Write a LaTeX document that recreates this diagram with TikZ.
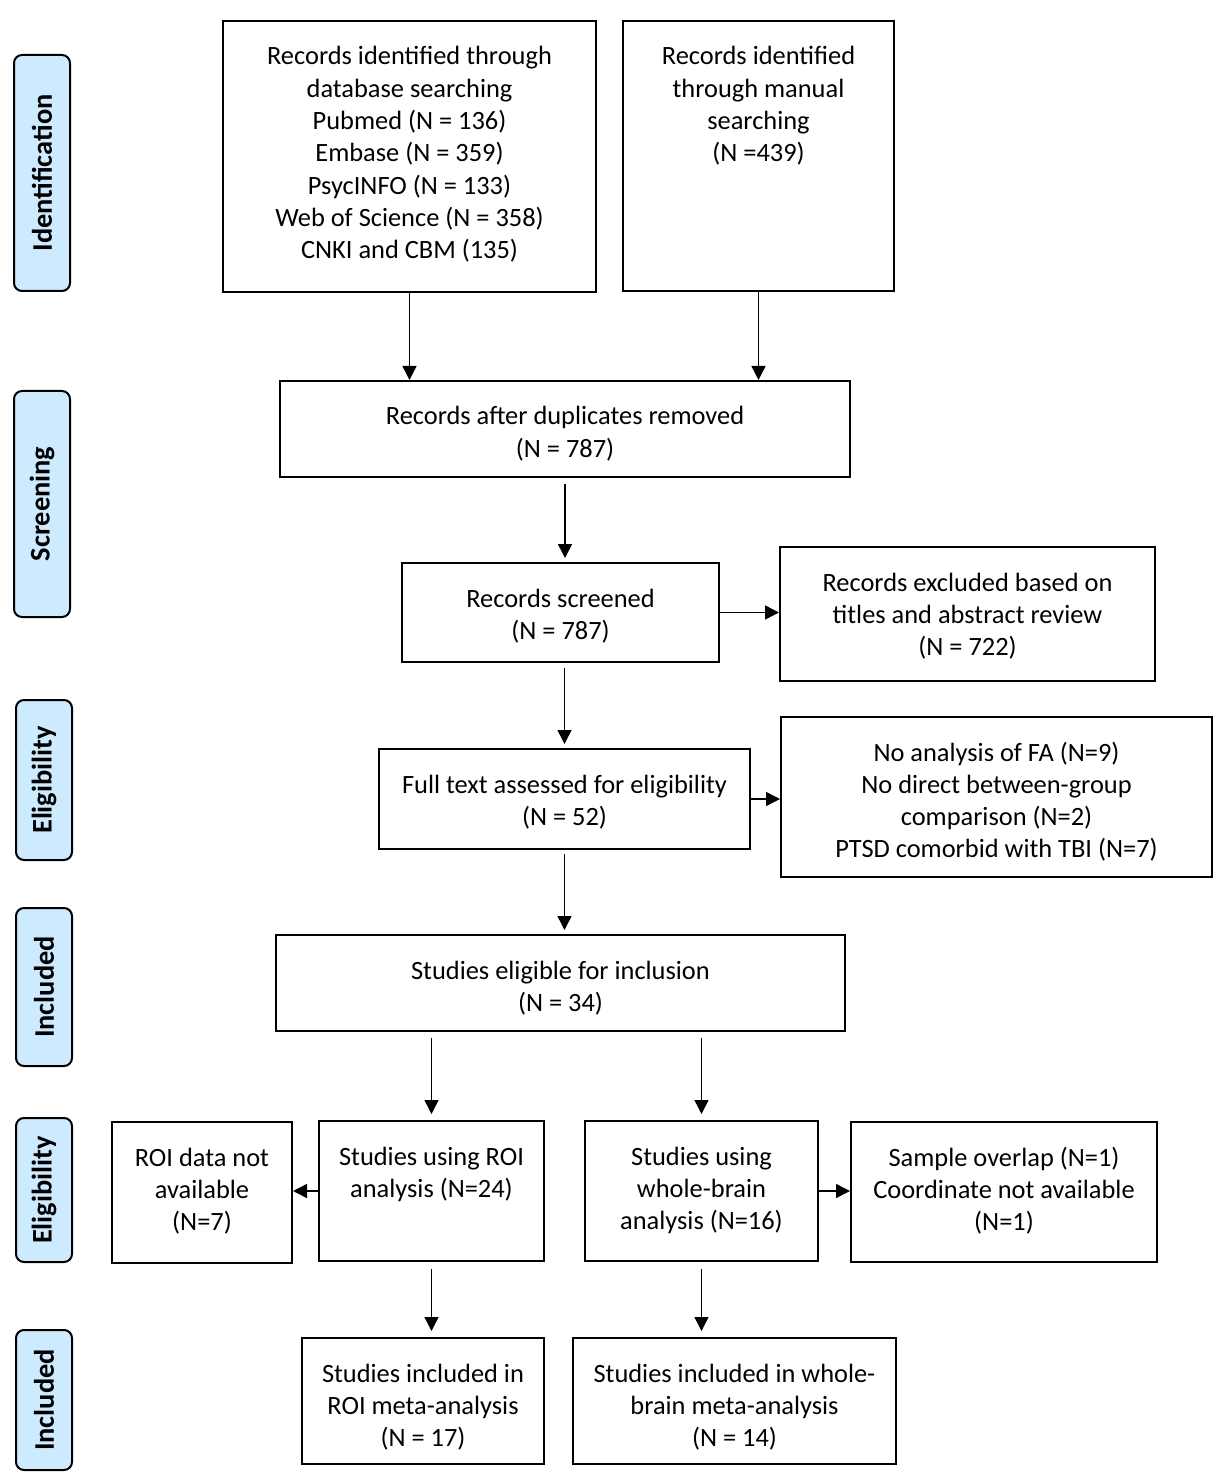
\documentclass[tikz,border=0pt]{standalone}
\usepackage{fontspec}
\setmainfont{Carlito}
\usetikzlibrary{arrows.meta}
\definecolor{stageblue}{RGB}{206,234,255}

\tikzset{
  box/.style={draw, line width=1pt, align=flush center, anchor=north,
    inner xsep=4pt, inner ysep=13pt, text height=9pt,
    font=\fontsize{13.2pt}{16.15pt}\selectfont},
  stage/.style={draw, line width=1pt, fill=stageblue, rounded corners=4pt, rotate=90,
    minimum height=28pt, inner sep=0pt, font=\fontsize{14.2pt}{17pt}\selectfont\bfseries},
  arr/.style={-{Triangle[length=7pt,width=7pt]}, line width=0.75pt},
}

\begin{document}
\begin{tikzpicture}[x=0.5pt, y=-0.5pt]
\useasboundingbox (0,0) rectangle (1224,1475);
% stages
\node[stage, minimum width=118pt] (st1) at (42,173) {Identification};
\node[stage, minimum width=113pt] (st2) at (42,504) {Screening};
\node[stage, minimum width=80pt] (st3) at (44,780) {Eligibility};
\node[stage, minimum width=79pt] (st4) at (44,987) {Included};
\node[stage, minimum width=72pt] (st5) at (44,1190) {Eligibility};
\node[stage, minimum width=70pt] (st6) at (44,1400) {Included};
% boxes
\node[box, text width=178.5pt, text depth=100.5pt] (db) at (409.5,20)
  {Records identified through\\database searching\\Pubmed (N = 136)\\Embase (N = 359)\\PsycINFO (N = 133)\\Web of Science (N = 358)\\CNKI and CBM (135)};
\node[box, text width=127.5pt, text depth=100pt] (man) at (758.5,20)
  {Records identified\\through manual\\searching\\(N =439)};
\node[box, text width=277pt, text depth=13pt] (dup) at (565,380)
  {Records after duplicates removed\\(N = 787)};
\node[box, text width=150.5pt, text depth=14.5pt] (scr) at (560.5,562)
  {Records screened\\(N = 787)};
\node[box, text width=179.5pt, text depth=32pt] (exc1) at (967.5,546)
  {Records excluded based on\\titles and abstract review\\(N = 722)};
\node[box, text width=177.5pt, text depth=15pt] (full) at (564.5,748)
  {Full text assessed for eligibility\\(N = 52)};
\node[box, text width=207.5pt, text depth=45pt] (exc2) at (996.5,716)
  {No analysis of FA (N=9)\\No direct between-group\\comparison (N=2)\\PTSD comorbid with TBI (N=7)};
\node[box, text width=276.5pt, text depth=13pt] (elig) at (560.5,934)
  {Studies eligible for inclusion\\(N = 34)};
\node[box, text width=82pt, text depth=35.5pt] (roina) at (202,1121)
  {ROI data not\\available\\(N=7)};
\node[box, text width=104.5pt, text depth=35pt] (roi) at (431.5,1120)
  {Studies using ROI\\analysis (N=24)};
\node[box, text width=108.5pt, text depth=35pt] (wb) at (701.5,1120)
  {Studies using\\whole-brain\\analysis (N=16)};
\node[box, text width=145pt, text depth=35pt] (samp) at (1004,1121)
  {Sample overlap (N=1)\\Coordinate not available\\(N=1)};
\node[box, text width=113pt, text depth=28pt] (roiinc) at (423,1337)
  {Studies included in\\ROI meta-analysis\\(N = 17)};
\node[box, text width=153.5pt, text depth=28pt] (wbinc) at (734.5,1337)
  {Studies included in whole-\\brain meta-analysis\\(N = 14)};
% arrows
\draw[arr] (db.south) -- (db.south |- dup.north);
\draw[arr] (man.south) -- (man.south |- dup.north);
\draw[arr, shorten <=3pt, shorten >=2pt] (dup.south) -- (dup.south |- scr.north);
\draw[arr] (scr.east) -- (scr.east -| exc1.west);
\draw[arr, shorten <=2.5pt, shorten >=2pt] (full.north |- scr.south) -- (full.north);
\draw[arr] (full.east) -- (full.east -| exc2.west);
\draw[arr, shorten <=2pt, shorten >=2pt] (full.south) -- (full.south |- elig.north);
\draw[arr, shorten <=3pt, shorten >=3pt] (roi.north |- elig.south) -- (roi.north);
\draw[arr, shorten <=3pt, shorten >=3pt] (wb.north |- elig.south) -- (wb.north);
\draw[arr] (roi.west) -- (roi.west -| roina.east);
\draw[arr] (wb.east) -- (wb.east -| samp.west);
\draw[arr, shorten <=3.5pt, shorten >=3pt] (roi.south) -- (roi.south |- roiinc.north);
\draw[arr, shorten <=3.5pt, shorten >=3pt] (wb.south) -- (wb.south |- wbinc.north);
\end{tikzpicture}
\end{document}
